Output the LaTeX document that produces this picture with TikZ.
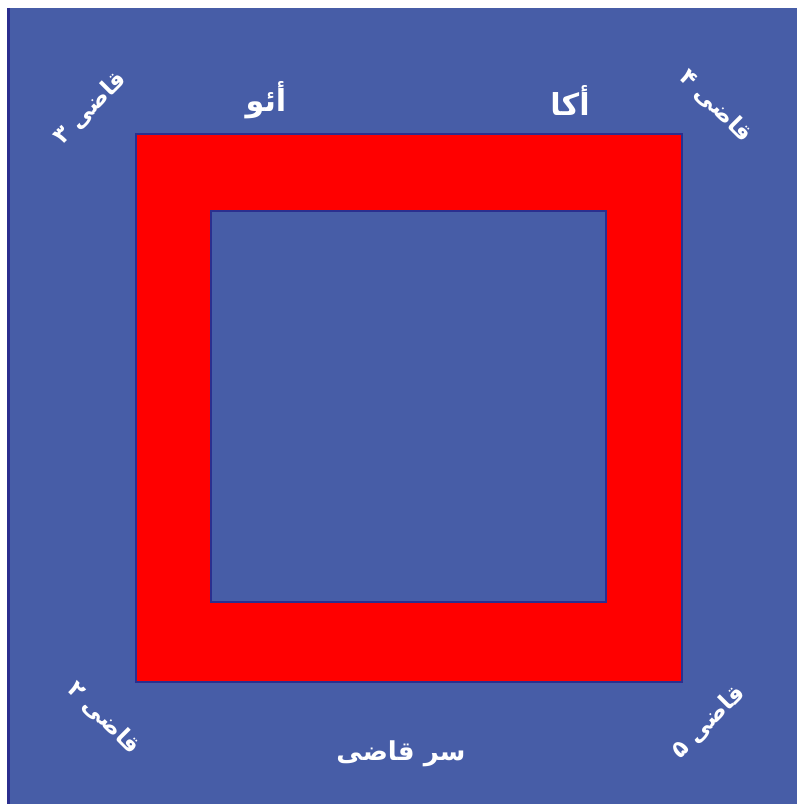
\documentclass[tikz,border=0pt]{standalone}
\usepackage{fontspec}
\usepackage{xcolor}
\usepackage{tikz}
\usetikzlibrary{calc,positioning}
\TeXXeTstate=1
\newfontfamily\arabicfont[Script=Arabic]{DejaVu Sans}
\definecolor{matBlue}{HTML}{475DA7}
\definecolor{edgeNavy}{HTML}{2B2F8F}
\definecolor{ringRed}{HTML}{FF0000}

\begin{document}
\begin{tikzpicture}[x=0.01cm,y=-0.01cm,
        judge/.style={text=white,font=\arabicfont\bfseries\fontsize{6.6}{8}\selectfont,inner sep=0pt},
        side/.style={text=white,font=\arabicfont\bfseries\fontsize{8.6}{10}\selectfont,inner sep=1pt}]
        \useasboundingbox (0,0) rectangle (797,804);
        % mat
        \fill[matBlue] (8,8) rectangle (797,804);
        \draw[edgeNavy,line width=0.6pt] (8.5,8) -- (8.5,804);
        % ring
        \path[draw=edgeNavy,fill=ringRed,line width=0.4pt] (136,134) rectangle (682,682);
        \path[draw=edgeNavy,fill=matBlue,line width=0.4pt] (211,211) rectangle (606,602);
        % labels
        \node[side] (ao) at (266,100) {\beginR أئو\endR};
        \node[side] (aka) at (570,100) {\beginR أکا\endR};
        \node[side,font=\arabicfont\bfseries\fontsize{7.4}{9}\selectfont] (head) at (401,754) {\beginR سر قاضی\endR};
        \node[judge,rotate=45] (j3) at (90,108) {\beginR قاضی ۳\endR};
        \node[judge,rotate=-45] (j4) at (716,106) {\beginR قاضی ۴\endR};
        \node[judge,rotate=-45] (j2) at (104,718) {\beginR قاضی ۲\endR};
        \node[judge,rotate=45] (j5) at (708,722) {\beginR قاضی ۵\endR};
    \end{tikzpicture}
\end{document}
